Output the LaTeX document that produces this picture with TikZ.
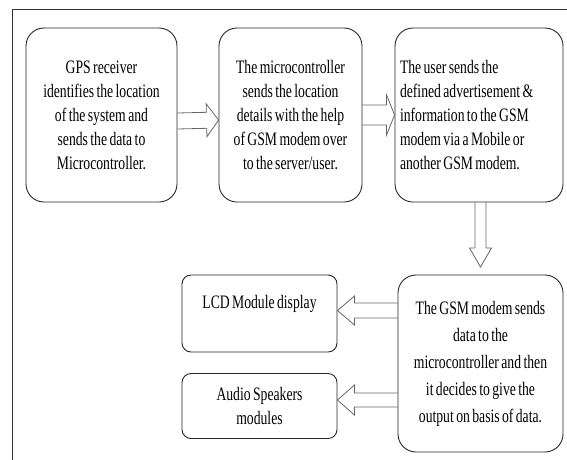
\documentclass[tikz,border=0pt]{standalone}
\usepackage{fontspec}
\setmainfont[FakeStretch=0.72, WordSpace=0.7]{Liberation Serif}
\usetikzlibrary{calc}

\tikzset{
  stepbox/.style={draw=black!85, line width=0.9pt, rounded corners=18pt,
    align=center, inner sep=2pt, font=\fontsize{19}{24}\selectfont},
  outbox/.style={draw=black!85, line width=0.9pt, rounded corners=9pt,
    align=center, inner sep=2pt, minimum width=155pt, font=\fontsize{19}{24}\selectfont},
  blockline/.style={draw=black!60, line width=0.8pt, line join=miter},
  frameline/.style={draw=black!80, line width=0.9pt}
}

% hollow block arrow: tail, tip, shaft half width, head half width, head length
\newcommand{\blockarrow}[5]{%
  \draw[blockline] let \p1=(#1), \p2=(#2), \n1={atan2(\y2-\y1,\x2-\x1)} in
    ($(\p1)+(\n1+90:#3)$) -- ($(\p2)+(\n1:-#5)+(\n1+90:#3)$)
    -- ($(\p2)+(\n1:-#5)+(\n1+90:#4)$) -- (\p2)
    -- ($(\p2)+(\n1:-#5)+(\n1-90:#4)$) -- ($(\p2)+(\n1:-#5)+(\n1-90:#3)$)
    -- ($(\p1)+(\n1-90:#3)$);}

\begin{document}
\begin{tikzpicture}[x=1pt, y=-1pt]
  \useasboundingbox (0,0) rectangle (567,459);
  % outer frame (only top and left edges fall inside the picture)
  \draw[frameline] (12.5,470) -- (12.5,9) -- (580,9);

  % top row
  \node[stepbox, minimum width=151pt, minimum height=174pt] (gps) at (101.5,115)
    {GPS receiver\\identifies the location\\of the system and\\sends the data to\\Microcontroller.};
  \node[stepbox, minimum width=143pt, minimum height=174pt] (micro) at (290.5,115)
    {The microcontroller\\sends the location\\details with the help\\of GSM modem over\\to the server/user.};
  \node[stepbox, minimum width=168pt, minimum height=174pt, text width=158pt, align=flush left] (user) at (479,115)
    {The user sends the\\defined advertisement \&\\information to the GSM\\modem via a Mobile or\\another GSM modem.};

  % bottom row
  \node[stepbox, minimum width=165pt, minimum height=177pt, font=\fontsize{19}{27}\selectfont] (gsm) at (480.5,363.5)
    {The GSM modem sends\\data to the\\microcontroller and then\\it decides to give the\\output on basis of data.};
  \node[outbox, minimum height=77pt] (lcd) at (259.5,313.5) {LCD Module display\\\mbox{}};
  \node[outbox, minimum height=65pt] (audio) at (259.5,406) {Audio Speakers\\modules};

  % arrows
  \coordinate (downtip) at (480.5,267);
  \blockarrow{$(gps.east)+(0,6)$}{$(micro.west)+(0,5)$}{8pt}{16.5pt}{12pt}
  \blockarrow{micro.east}{user.west}{10pt}{20pt}{8pt}
  \blockarrow{$(user.south)+(1.5,0)$}{downtip}{5.5pt}{11pt}{19pt}
  \blockarrow{$(gsm.west)+(0,-53)$}{$(lcd.east)+(0,-3)$}{7.5pt}{14.5pt}{17pt}
  \blockarrow{$(gsm.west)+(0,36.5)$}{$(audio.east)+(0,-6)$}{7pt}{15pt}{17pt}
\end{tikzpicture}
\end{document}
